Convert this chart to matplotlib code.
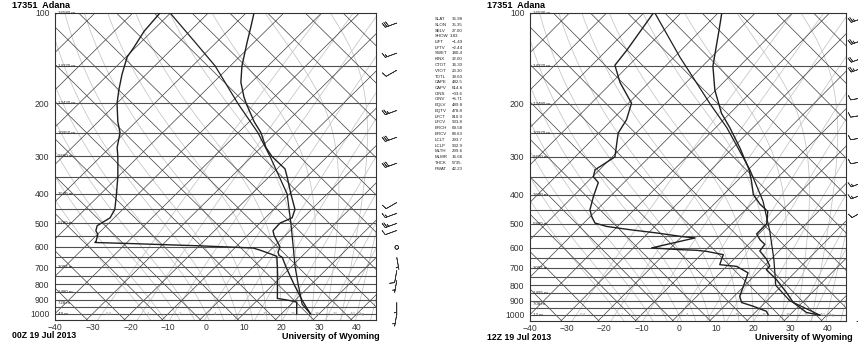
import numpy as np
import matplotlib.pyplot as plt
from matplotlib.ticker import NullLocator

plt.rcParams['font.family'] = ['Liberation Sans', 'DejaVu Sans']

SKEW = 35.0

# ---- 00Z sounding (hPa, degC)
P_T_00 = [100, 110, 125, 150, 170, 190, 200, 230, 250, 280, 300, 330, 350, 400, 450,
          480, 500, 530, 550, 600, 625, 640, 650, 700, 750, 800, 850, 900, 950, 1000]
T_00 = [-67.9, -65.3, -61.9, -56.9, -52.8, -48.1, -45.7, -38.7, -34.0, -28.7, -24.7,
        -17.9, -15.3, -9.6, -4.4, -2.9, -4.7, -4.5, -2.9, 1.7, 2.6, 3.7, 5.1, 8.7,
        12.2, 15.5, 18.7, 21.7, 24.7, 27.6]
P_TD_00 = [100, 115, 130, 140, 160, 180, 200, 230, 250, 280, 300, 350, 400, 450, 480,
           510, 530, 545, 575, 580, 585, 595, 605, 615, 635, 645, 700, 800, 890, 905,
           915, 1000]
TD_00 = [-92.8, -92.1, -90.5, -89.7, -86.4, -83.1, -79.9, -74.8, -71.3, -68.1, -65.5,
         -60.1, -55.8, -52.1, -51.1, -52.4, -51.4, -49.9, -48.5, -48.5, -38.1, -19.8,
         -5.1, -2.7, 1.5, 3.4, 6.4, 11.1, 14.8, 18.8, 20.9, 24.0]
P_PCL_00 = [100, 125, 150, 200, 250, 300, 400, 500, 600, 700, 800, 930, 1000]
PCL_00 = [-90.1, -75.7, -64.0, -47.9, -34.8, -25.2, -10.6, -1.8, 5.2, 11.1, 16.6,
          22.9, 27.6]
P_WIND_00 = [108, 136, 155, 211, 259, 316, 427, 464, 501, 529, 602, 650, 719, 776, 919, 1004]
DIR_00 = [250, 250, 240, 250, 250, 250, 240, 250, 250, 250, 0, 170, 190, 190, 180, 190]
SPD_00 = [30, 15, 10, 25, 30, 30, 10, 15, 25, 10, 0, 5, 10, 5, 5, 5]
HGT_P = [100, 150, 200, 250, 300, 400, 500, 700, 850, 925, 1000]
HGT_00 = ['16580 m', '14320 m', '12420 m', '10950 m', '9660 m', '7520 m', '5780 m',
          '3083 m', '1480 m', '728 m', '49 m']

# ---- 12Z sounding
P_T_12 = [100, 115, 150, 180, 215, 240, 280, 330, 360, 400, 430, 455, 500, 540, 565,
          585, 615, 655, 690, 710, 765, 845, 912, 984, 1004]
T_12 = [-69.0, -64.9, -57.2, -50.3, -42.3, -36.2, -28.1, -19.9, -16.2, -12.0, -7.7,
        -3.6, -0.6, -0.6, 1.9, 4.4, 4.8, 8.8, 11.5, 11.6, 16.9, 23.1, 27.6, 33.8, 38.1]
P_TD_12 = [100, 133, 149, 170, 199, 226, 250, 300, 331, 349, 365, 406, 449, 472, 497,
           510, 523, 536, 550, 557, 577, 601, 609, 612, 617, 633, 657, 683, 692, 727,
           783, 869, 912, 938, 975, 999]
TD_12 = [-87.4, -84.6, -83.8, -77.8, -69.2, -66.1, -64.8, -59.3, -61.2, -59.8, -56.9,
         -54.5, -51.9, -49.7, -47.0, -43.0, -35.8, -27.8, -20.6, -16.1, -20.3, -25.1,
         -17.0, -12.4, -9.4, -4.0, -3.2, -2.3, 2.7, 7.5, 9.2, 11.5, 13.7, 17.8, 22.7, 24.0]
P_PCL_12 = [100, 140, 200, 240, 330, 420, 530, 657, 800, 900, 1004]
PCL_12 = [-87.0, -68.5, -47.9, -37.0, -19.7, -7.7, 2.3, 10.9, 18.3, 26.2, 38.1]
P_WIND_12 = [104, 123, 141, 152, 191, 218, 259, 311, 365, 400, 455, 984]
DIR_12 = [250, 250, 250, 250, 260, 260, 260, 260, 250, 250, 240, 200]
SPD_12 = [25, 25, 20, 25, 10, 10, 10, 10, 15, 15, 10, 5]
HGT_12 = ['16590 m', '14320 m', '12480 m', '10970 m', '9670 m', '7640 m', '5800 m',
          '3087 m', '1495 m', '708 m', '12 m']

# ---- station indices (00Z)
IDX_NAMES = ['SLAT', 'SLON', 'SELV', 'SHOW', 'LIFT', 'LFTV', 'SWET', 'KINX', 'CTOT',
             'VTOT', 'TOTL', 'CAPE', 'CAPV', 'CINS', 'CINV', 'EQLV', 'EQTV', 'LFCT',
             'LFCV', 'BRCH', 'BRCV', 'LCLT', 'LCLP', 'MLTH', 'MLMR', 'THCK', 'PWAT']
IDX_VALUES = ['36.98', '35.35', '27.00', '3.83', '\u22121.49', '\u22122.44', '180.4',
              '32.00', '16.30', '23.30', '39.60', '482.5', '614.6', '\u221233.6',
              '\u22125.71', '489.8', '478.8', '810.9', '903.8', '69.58', '88.63',
              '293.7', '932.9', '299.6', '16.66', '5735.', '42.23']

MIX_RATIOS = [0.4, 1, 2, 4, 7, 10, 16, 24, 32, 40]
MIX_LABELS = ['0.4', '1', '2', '4', '7', '10', '16', '24', '32', '40 g/kg']


def skew(t, p):
    return np.asarray(t) + SKEW * np.log(1000.0 / np.asarray(p, dtype=float))


def dtdp(T, p):
    es = 6.112 * np.exp(17.67 * (T - 273.15) / (T - 29.65))
    rs = 0.622 * es / (p - es)
    num = (287.04 * T + 2.501e6 * rs) / p
    den = 1005.7 + 2.501e6 ** 2 * rs * 0.622 / (287.04 * T ** 2)
    return num / den


def moist(t0, pend):
    ps = np.linspace(1000, pend, 120)
    T = np.empty_like(ps)
    T[0] = t0 + 273.15
    for i in range(1, len(ps)):
        dp = ps[i] - ps[i - 1]
        k1 = dtdp(T[i - 1], ps[i - 1])
        k2 = dtdp(T[i - 1] + k1 * dp / 2, ps[i - 1] + dp / 2)
        T[i] = T[i - 1] + k2 * dp
    return ps, T - 273.15


def panel(ax, pt, t, ptd, td, ppcl, pcl, pw, wdir, wspd, hgt, barb_x):
    ax.set_yscale('log')
    pg = np.geomspace(1050, 100, 200)
    dark = '#404040'
    # isotherms
    for tt in range(-160, 50, 10):
        ax.plot(skew(tt, pg), pg, color=dark, lw=0.5, zorder=2)
    # dry adiabats (straight on this chart), theta every 10 K
    for th in range(230, 450, 10):
        ax.plot(th - 273.15 - SKEW * np.log(1000.0 / pg), pg, color=dark, lw=0.5, zorder=2)
    # moist adiabats
    for t0 in range(-16, 45, 4):
        pu, tu = moist(t0, 100)
        pd, tdn = moist(t0, 1050)
        ax.plot(skew(tu, pu), pu, color='#c4c4c4', lw=0.55, zorder=1)
        ax.plot(skew(tdn, pd), pd, color='#c4c4c4', lw=0.55, zorder=1)
    # mixing ratio lines
    for w, lab in zip(MIX_RATIOS, MIX_LABELS):
        e = w / 1000.0 * pg / (0.622 + w / 1000.0)
        a = np.log(e / 6.112)
        tdw = 243.5 * a / (17.67 - a)
        ax.plot(skew(tdw, pg), pg, color='#c4c4c4', lw=0.55, zorder=1)
        e0 = w / 1000.0 * 1000 / (0.622 + w / 1000.0)
        a0 = np.log(e0 / 6.112)
        ax.text(243.5 * a0 / (17.67 - a0) + 1.8, 1000, lab, fontsize=3.2, color='#909090',
                ha='left' if lab.endswith('kg') else 'center', va='center', zorder=3)
    # isobars
    for p in range(150, 1050, 50):
        ax.axhline(p, color='#505050', lw=0.8, zorder=2)
    for p, lab in zip(HGT_P, hgt):
        ax.text(-39.3, p, lab, fontsize=3.2, color='#222222', ha='left', va='center', zorder=4)
    # profiles
    ax.plot(skew(pcl, ppcl), ppcl, color='#202020', lw=0.9, zorder=5)
    ax.plot(skew(t, pt), pt, color='#202020', lw=1.0, zorder=6)
    ax.plot(skew(td, ptd), ptd, color='#202020', lw=1.0, zorder=6)
    # winds
    d = np.radians(wdir)
    u = -np.array(wspd) * np.sin(d)
    v = -np.array(wspd) * np.cos(d)
    ax.barbs(np.full(len(pw), barb_x), pw, u, v, length=4.2, linewidth=0.5,
             color='#333333', clip_on=False,
             sizes=dict(emptybarb=0.15, spacing=0.15, height=0.4), zorder=6)
    ax.set_xlim(-40, 45)
    ax.set_ylim(1050, 100)
    ax.set_xticks(range(-40, 41, 10))
    ax.set_yticks([100, 200, 300, 400, 500, 600, 700, 800, 900, 1000])
    ax.set_yticklabels(['100', '200', '300', '400', '500', '600', '700', '800', '900', '1000'])
    ax.yaxis.set_minor_locator(NullLocator())
    ax.tick_params(length=0, labelsize=6.2, colors='#333333')
    ax.tick_params(axis='y', pad=4)
    ax.tick_params(axis='x', pad=2)
    for s in ax.spines.values():
        s.set_linewidth(0.8)
        s.set_color('#333333')


fig = plt.figure(figsize=(8.58, 3.51), dpi=100)
axL = fig.add_axes([55 / 858, 31 / 351, 321 / 858, 307 / 351])
axR = fig.add_axes([530 / 858, 30 / 351, 316 / 858, 308 / 351])

panel(axL, P_T_00, T_00, P_TD_00, TD_00, P_PCL_00, PCL_00,
      P_WIND_00, DIR_00, SPD_00, HGT_00, 50.5)
panel(axR, P_T_12, T_12, P_TD_12, TD_12, P_PCL_12, PCL_12,
      P_WIND_12, DIR_12, SPD_12, HGT_12, 49.5)

def ftext(x, y, s, **kw):
    fig.text(x / 858, 1 - y / 351, s, **kw)

ftext(12, 6, '17351  Adana', fontsize=6.6, fontweight='bold', va='center')
ftext(487, 5, '17351  Adana', fontsize=6.6, fontweight='bold', va='center')
ftext(12, 336, '00Z 19 Jul 2013', fontsize=6.3, fontweight='bold', va='center')
ftext(487, 338, '12Z 19 Jul 2013', fontsize=6.3, fontweight='bold', va='center')
ftext(282, 336.5, 'University of Wyoming', fontsize=6.5, fontweight='bold', va='center')
ftext(755, 338, 'University of Wyoming', fontsize=6.5, fontweight='bold', va='center')

for i, (nm, vl) in enumerate(zip(IDX_NAMES, IDX_VALUES)):
    y = 19 + i * 5.75
    ftext(435, y, nm, fontsize=3.2, va='center', color='#222222')
    ftext(449.5 if nm == 'SHOW' else 452, y, vl, fontsize=3.2, va='center', color='#222222')

fig.savefig('out.png', dpi=100)
